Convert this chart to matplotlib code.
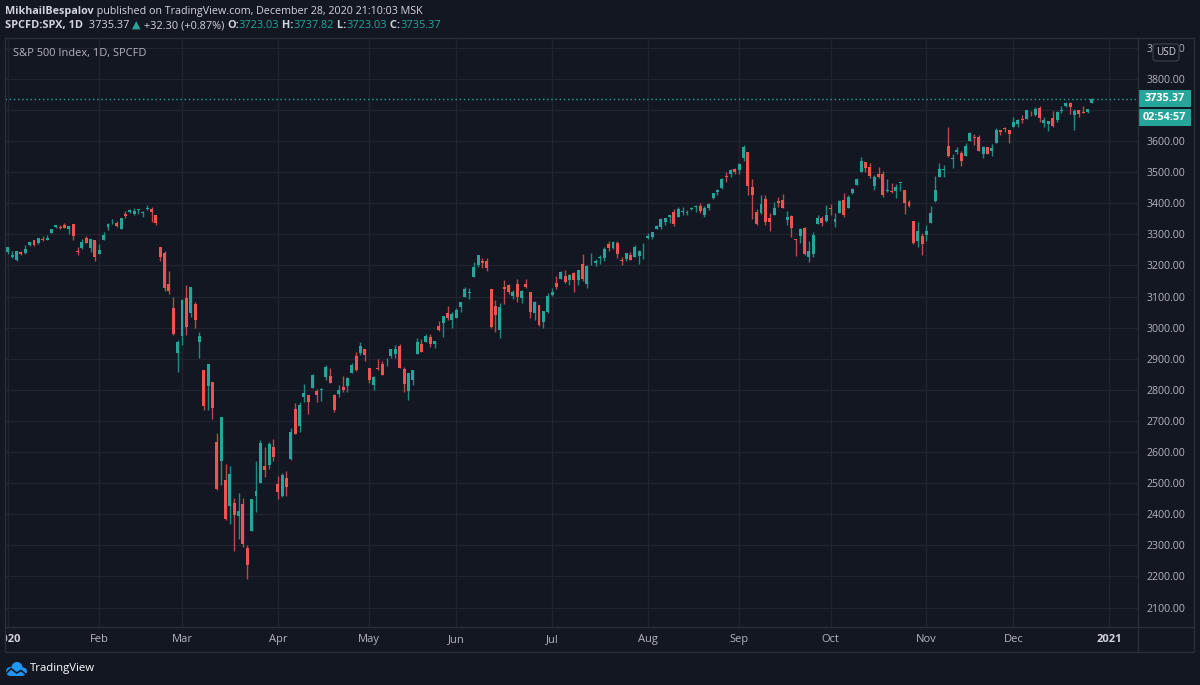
import matplotlib
matplotlib.use("Agg")
import matplotlib.pyplot as plt
import numpy as np
import pandas as pd
from matplotlib.patches import Rectangle, FancyBboxPatch, Circle
from matplotlib.transforms import Bbox, TransformedBbox

# ---------------- data (S&P 500, daily, 2020) ----------------
open_ = [
    # Jan
    3244.67, 3226.36, 3217.55, 3241.86, 3238.59, 3266.03, 3281.81, 3271.13, 3285.35, 3282.27, 3302.97,
    3323.66, 3321.03, 3330.02, 3315.77, 3333.10, 3247.16, 3255.35, 3289.46, 3256.45, 3282.33,
    # Feb
    3235.66, 3280.61, 3324.91, 3344.92, 3335.54, 3318.28, 3365.87, 3370.50, 3365.90, 3378.08, 3369.04,
    3380.39, 3380.45, 3360.50, 3257.61, 3238.94, 3139.90, 3062.54, 2916.90,
    # Mar
    2974.28, 3096.46, 3045.75, 3075.70, 2954.20, 2863.89, 2813.48, 2825.60, 2630.86, 2569.99, 2508.59,
    2425.66, 2436.50, 2393.48, 2431.94, 2290.71, 2344.44, 2457.77, 2501.29, 2555.87, 2558.98, 2614.69,
    # Apr
    2498.08, 2458.54, 2514.92, 2578.28, 2738.65, 2685.00, 2776.99, 2782.46, 2805.10, 2795.64, 2799.34,
    2842.43, 2845.62, 2784.81, 2787.89, 2810.42, 2812.64, 2854.65, 2909.96, 2918.46, 2930.91,
    # May
    2869.09, 2815.01, 2868.88, 2883.14, 2878.26, 2908.83, 2915.46, 2939.50, 2865.86, 2794.54, 2829.95,
    2913.86, 2948.59, 2953.63, 2969.95, 2948.05, 3004.08, 3015.65, 3046.61, 3025.17,
    # Jun
    3031.48, 3064.78, 3098.90, 3111.56, 3163.84, 3199.92, 3213.32, 3213.42, 3123.53, 3071.04, 2993.76,
    3131.00, 3136.13, 3101.64, 3140.29, 3094.42, 3138.70, 3114.40, 3046.60, 3073.20, 3018.59, 3050.20,
    # Jul
    3105.92, 3143.64, 3155.29, 3166.44, 3153.07, 3176.17, 3152.47, 3205.08, 3141.11, 3225.98, 3208.36,
    3224.21, 3224.29, 3268.52, 3254.86, 3271.64, 3218.58, 3219.84, 3234.27, 3227.22, 3231.76, 3270.45,
    # Aug
    3288.26, 3289.92, 3317.37, 3323.17, 3340.05, 3356.04, 3370.34, 3355.46, 3372.95, 3368.66, 3380.86,
    3387.04, 3392.51, 3360.48, 3386.01, 3418.09, 3435.95, 3449.97, 3485.14, 3494.69, 3509.73,
    # Sep
    3507.44, 3543.76, 3564.74, 3453.60, 3371.88, 3369.82, 3412.56, 3352.70, 3363.56, 3407.73, 3411.23,
    3346.86, 3357.38, 3285.57, 3295.75, 3320.11, 3226.14, 3236.66, 3333.90, 3350.92, 3341.21,
    # Oct
    3385.87, 3338.94, 3367.27, 3408.74, 3384.56, 3434.28, 3459.67, 3500.02, 3534.01, 3515.47, 3453.72,
    3493.50, 3493.66, 3439.38, 3439.91, 3438.50, 3464.90, 3441.42, 3403.15, 3342.48, 3277.17, 3293.59,
    # Nov
    3296.20, 3336.25, 3406.46, 3485.74, 3508.34, 3583.04, 3543.26, 3563.22, 3562.67, 3552.57, 3600.16,
    3610.31, 3612.09, 3559.41, 3579.31, 3566.82, 3594.52, 3635.50, 3638.55, 3634.18,
    # Dec
    3645.87, 3653.78, 3668.28, 3670.94, 3694.73, 3683.05, 3705.98, 3659.13, 3656.08, 3675.27, 3666.41,
    3696.25, 3713.65, 3722.39, 3684.28, 3698.08, 3693.42, 3694.03, 3723.03,
]
high = [
    3258.14, 3246.15, 3246.84, 3244.91, 3267.07, 3275.58, 3282.99, 3288.13, 3294.25, 3298.66, 3317.11,
    3329.88, 3329.79, 3337.77, 3326.88, 3333.18, 3258.85, 3285.78, 3293.47, 3285.91, 3282.33,
    3268.44, 3306.92, 3337.58, 3347.96, 3341.42, 3352.26, 3375.63, 3381.47, 3385.09, 3380.69, 3375.01,
    3393.52, 3389.15, 3360.76, 3259.81, 3246.99, 3182.51, 3097.07, 2959.72,
    3090.96, 3136.72, 3130.97, 3083.04, 2985.93, 2863.89, 2882.59, 2825.60, 2660.95, 2711.33, 2562.98,
    2553.93, 2453.57, 2466.97, 2453.01, 2300.73, 2449.71, 2571.42, 2637.01, 2615.91, 2631.80, 2641.39,
    2522.75, 2533.22, 2538.18, 2676.85, 2756.89, 2760.75, 2818.57, 2782.46, 2851.85, 2801.88, 2806.51,
    2879.22, 2868.98, 2785.54, 2815.10, 2844.90, 2842.71, 2887.72, 2921.15, 2954.86, 2930.91,
    2869.09, 2844.24, 2898.23, 2891.11, 2901.92, 2932.16, 2944.25, 2945.82, 2874.14, 2852.80, 2865.01,
    2968.09, 2964.21, 2980.29, 2978.50, 2956.76, 3021.72, 3036.25, 3068.67, 3049.17,
    3062.18, 3081.07, 3130.94, 3128.91, 3211.72, 3233.13, 3222.71, 3223.27, 3123.53, 3088.42, 3079.76,
    3153.45, 3141.16, 3120.00, 3155.53, 3120.92, 3154.90, 3115.01, 3086.25, 3073.73, 3053.89, 3111.51,
    3128.44, 3165.81, 3182.59, 3184.15, 3171.80, 3179.78, 3186.82, 3235.32, 3200.95, 3238.28, 3220.39,
    3233.52, 3258.61, 3277.29, 3279.32, 3279.99, 3227.26, 3241.43, 3243.72, 3264.74, 3250.92, 3272.17,
    3302.73, 3306.84, 3330.77, 3351.03, 3352.54, 3363.29, 3381.01, 3387.89, 3387.24, 3378.51, 3387.59,
    3395.06, 3399.54, 3390.80, 3399.96, 3432.09, 3444.21, 3481.07, 3501.38, 3509.23, 3514.77,
    3528.03, 3588.11, 3564.85, 3479.15, 3379.97, 3424.77, 3425.55, 3368.95, 3402.93, 3419.48, 3428.92,
    3375.17, 3362.27, 3285.57, 3320.31, 3323.35, 3278.70, 3306.88, 3360.74, 3357.92, 3393.56,
    3397.18, 3369.10, 3409.57, 3431.56, 3426.26, 3447.28, 3482.34, 3549.85, 3534.01, 3527.94, 3489.08,
    3515.76, 3502.42, 3476.93, 3464.86, 3460.53, 3466.46, 3441.42, 3409.51, 3342.48, 3341.05, 3304.93,
    3330.14, 3389.49, 3486.25, 3529.05, 3521.58, 3645.99, 3557.22, 3581.16, 3569.02, 3593.66, 3628.51,
    3623.11, 3619.09, 3585.22, 3581.23, 3589.81, 3642.31, 3635.50, 3644.31, 3634.18,
    3678.45, 3670.96, 3682.73, 3699.20, 3697.41, 3708.45, 3712.39, 3678.49, 3665.91, 3697.61, 3695.29,
    3711.27, 3725.12, 3726.70, 3702.90, 3698.26, 3711.24, 3703.82, 3737.82,
]
low = [
    3235.53, 3222.34, 3214.64, 3232.43, 3236.67, 3263.67, 3260.86, 3268.43, 3277.19, 3280.69, 3302.82,
    3318.86, 3316.61, 3320.04, 3301.87, 3281.53, 3234.50, 3253.22, 3271.89, 3242.80, 3214.68,
    3235.66, 3280.61, 3313.75, 3334.39, 3322.12, 3317.77, 3352.72, 3369.72, 3360.52, 3366.15, 3355.61,
    3378.83, 3341.02, 3328.45, 3214.65, 3118.77, 3108.99, 2977.39, 2855.84,
    2945.19, 2976.63, 3034.38, 2999.83, 2901.54, 2734.43, 2734.00, 2707.22, 2478.86, 2492.37, 2380.94,
    2367.04, 2280.52, 2319.78, 2295.56, 2191.86, 2344.44, 2407.53, 2500.72, 2520.02, 2545.28, 2571.15,
    2447.49, 2455.79, 2459.96, 2574.57, 2657.67, 2663.30, 2762.36, 2721.17, 2805.10, 2761.54, 2764.32,
    2830.88, 2820.43, 2727.10, 2775.95, 2794.26, 2791.76, 2852.89, 2860.71, 2912.16, 2892.47,
    2821.61, 2797.85, 2863.55, 2847.65, 2876.48, 2902.88, 2903.44, 2869.59, 2793.15, 2766.64, 2816.78,
    2913.86, 2922.35, 2953.63, 2938.57, 2933.59, 2988.17, 2969.75, 3023.40, 2998.61,
    3031.48, 3051.64, 3098.90, 3090.41, 3163.84, 3196.00, 3193.11, 3181.49, 2999.49, 2984.47, 2965.66,
    3076.06, 3108.03, 3093.51, 3083.11, 3079.39, 3127.12, 3032.13, 3024.01, 3004.63, 2999.74, 3047.83,
    3101.17, 3124.52, 3155.29, 3142.93, 3136.53, 3115.70, 3136.22, 3149.43, 3127.66, 3200.76, 3198.59,
    3205.65, 3215.16, 3247.77, 3253.10, 3222.66, 3200.05, 3214.25, 3216.17, 3227.22, 3204.13, 3220.26,
    3284.53, 3286.37, 3317.37, 3318.14, 3328.72, 3335.44, 3326.44, 3355.46, 3363.35, 3361.64, 3379.22,
    3370.15, 3369.66, 3354.69, 3379.31, 3413.13, 3425.84, 3444.15, 3468.35, 3484.32, 3493.25,
    3494.60, 3535.23, 3427.41, 3349.63, 3329.27, 3366.84, 3329.25, 3310.47, 3363.56, 3389.25, 3384.45,
    3328.82, 3292.40, 3229.10, 3270.95, 3232.57, 3209.45, 3228.44, 3332.91, 3327.54, 3340.47,
    3361.39, 3323.69, 3367.27, 3354.54, 3384.56, 3428.15, 3458.07, 3499.61, 3500.86, 3480.55, 3440.89,
    3480.45, 3419.93, 3435.65, 3433.06, 3415.34, 3440.45, 3364.86, 3388.71, 3268.89, 3259.82, 3233.94,
    3279.74, 3336.25, 3405.17, 3485.74, 3484.34, 3547.48, 3511.91, 3557.00, 3518.58, 3552.57, 3600.16,
    3588.68, 3567.33, 3543.84, 3556.85, 3552.77, 3594.52, 3617.76, 3629.33, 3594.39,
    3645.87, 3644.84, 3657.17, 3670.94, 3678.88, 3678.83, 3660.54, 3645.18, 3633.40, 3645.84, 3659.62,
    3688.57, 3710.87, 3685.84, 3636.48, 3676.16, 3689.28, 3689.32, 3723.03,
]
close = [
    3257.85, 3234.85, 3246.28, 3237.18, 3253.05, 3274.70, 3265.35, 3288.13, 3283.15, 3289.29, 3316.81,
    3329.62, 3320.79, 3321.75, 3325.54, 3295.47, 3243.63, 3276.24, 3273.40, 3283.66, 3225.52,
    3248.92, 3297.59, 3334.69, 3345.78, 3327.71, 3352.09, 3357.75, 3379.45, 3373.94, 3380.16, 3370.29,
    3386.15, 3373.23, 3337.75, 3225.89, 3128.21, 3116.39, 2978.76, 2954.22,
    3090.23, 3003.37, 3130.12, 3023.94, 2972.37, 2746.56, 2882.23, 2741.38, 2480.64, 2711.02, 2386.13,
    2529.19, 2398.10, 2409.39, 2304.92, 2237.40, 2447.33, 2475.56, 2630.07, 2541.47, 2626.65, 2584.59,
    2470.50, 2526.90, 2488.65, 2663.68, 2659.41, 2749.98, 2789.82, 2761.63, 2846.06, 2783.36, 2799.55,
    2874.56, 2823.16, 2736.56, 2799.31, 2797.80, 2836.74, 2878.48, 2863.39, 2939.51, 2912.43,
    2830.71, 2842.74, 2868.44, 2848.42, 2881.19, 2929.80, 2930.32, 2870.12, 2820.00, 2852.50, 2863.70,
    2953.91, 2922.94, 2971.61, 2948.51, 2955.45, 2991.77, 3036.13, 3029.73, 3044.31,
    3055.73, 3080.82, 3122.87, 3112.35, 3193.93, 3232.39, 3207.18, 3190.14, 3002.10, 3041.31, 3066.59,
    3124.74, 3113.49, 3115.34, 3097.74, 3117.86, 3131.29, 3050.33, 3083.76, 3009.05, 3053.24, 3100.29,
    3115.86, 3130.01, 3179.72, 3145.32, 3169.94, 3152.05, 3185.04, 3155.22, 3197.52, 3226.56, 3215.57,
    3224.73, 3251.84, 3257.30, 3276.02, 3235.66, 3215.63, 3239.41, 3218.44, 3258.44, 3246.22, 3271.12,
    3294.61, 3306.51, 3327.77, 3349.16, 3351.28, 3360.47, 3333.69, 3380.35, 3373.43, 3372.85, 3381.99,
    3389.78, 3374.85, 3385.51, 3397.16, 3431.28, 3443.62, 3478.73, 3484.55, 3508.01, 3500.31,
    3526.65, 3580.84, 3455.06, 3426.96, 3331.84, 3398.96, 3339.19, 3340.97, 3383.54, 3401.20, 3385.49,
    3357.01, 3319.47, 3281.06, 3315.57, 3236.92, 3246.59, 3298.46, 3351.60, 3335.47, 3363.00,
    3380.80, 3348.42, 3408.60, 3360.97, 3419.44, 3446.83, 3477.14, 3534.22, 3511.93, 3488.67, 3483.34,
    3483.81, 3426.92, 3443.12, 3435.56, 3453.49, 3465.39, 3400.97, 3390.68, 3271.03, 3310.11, 3269.96,
    3310.24, 3369.16, 3443.44, 3510.45, 3509.44, 3550.50, 3545.53, 3572.66, 3537.01, 3585.15, 3626.91,
    3609.53, 3567.79, 3581.87, 3557.54, 3577.59, 3635.41, 3629.65, 3638.35, 3621.63,
    3662.45, 3669.01, 3666.72, 3699.12, 3691.96, 3702.25, 3672.82, 3668.10, 3663.46, 3647.49, 3694.62,
    3701.17, 3722.48, 3709.41, 3694.92, 3687.26, 3690.01, 3703.06, 3735.37,
]

holidays = ["2020-01-01", "2020-01-20", "2020-02-17", "2020-04-10", "2020-05-25",
            "2020-07-03", "2020-09-07", "2020-11-26", "2020-12-25", "2021-01-01"]
month_names = ["2020", "Feb", "Mar", "Apr", "May", "Jun", "Jul", "Aug", "Sep",
               "Oct", "Nov", "Dec", "2021"]
price_ticks = [2100, 2200, 2300, 2400, 2500, 2600, 2700, 2800, 2900, 3000,
               3100, 3200, 3300, 3400, 3500, 3600, 3800, 3900]   # 3700 sits under the price tag
grid_levels = list(range(2100, 4000, 100))
last_price = 3735.37

# ---------------- styling ----------------
BG = "#131722"
GRID = "#20242f"
BORDER = "#2a2e39"
UP = "#26a69a"
DOWN = "#ef5350"
UP_WICK = "#1f8a80"
DOWN_WICK = "#c04748"
TXT = "#d1d4dc"
AXTXT = "#b2b5be"
FONT = ["Open Sans", "DejaVu Sans"]
plt.rcParams["font.family"] = FONT

W, H = 1200, 685
fig = plt.figure(figsize=(12, 6.85), dpi=100)
fig.patch.set_facecolor(BG)

# trading-day calendar
cal = pd.bdate_range("2020-01-01", "2021-01-04")
cal = cal[~cal.isin(pd.to_datetime(holidays))]
n = len(close)
xs = np.arange(n)
o = np.array(open_); h = np.array(high); l = np.array(low); c = np.array(close)

# main pane (pixel layout: x 5..1138, y 38..627)
ax = fig.add_axes([5 / W, 1 - 627 / H, (1138 - 5) / W, (627 - 38) / H])
ax.set_facecolor(BG)
ax.set_xlim(-0.66, 259.6)
ax.set_ylim(2037.3, 3931.2)
for s in ax.spines.values():
    s.set_visible(False)

# grid
month_first = pd.Series(np.arange(len(cal)), index=cal).groupby([cal.year, cal.month]).first().values
for yv in grid_levels:
    ax.axhline(yv, color=GRID, lw=1, zorder=0)
for xv in month_first:
    ax.axvline(xv, color=GRID, lw=1, zorder=0)

# candles
up = c >= o
ax.vlines(xs, l, h, colors=np.where(up, UP_WICK, DOWN_WICK), lw=1, zorder=2)
body_bottom = np.minimum(o, c)
body_h = np.maximum(np.abs(c - o), 2.5)
ax.bar(xs, body_h, bottom=body_bottom, width=0.68, color=np.where(up, UP, DOWN),
       linewidth=0, zorder=3)

# last price dotted line
ax.axhline(last_price, color=UP, lw=1, ls=(0, (1, 2)), zorder=1)

# y tick labels on the right
ax.set_yticks(price_ticks)
ax.set_yticklabels([f"{v:.2f}" for v in price_ticks])
ax.yaxis.tick_right()
ax.tick_params(axis="y", length=0, pad=6, labelsize=7.6, labelcolor=AXTXT)
ax.set_xticks([])

# month labels
clipbox = TransformedBbox(Bbox.from_extents(5 / W, 0, 1138 / W, 1), fig.transFigure)
for xv, name in zip(month_first, month_names):
    bold = name.isdigit()
    t = ax.text(xv, -0.022, name, transform=ax.get_xaxis_transform(), ha="center", va="center",
                fontsize=8.0, color=TXT if bold else AXTXT, fontweight="bold" if bold else "normal")
    t.set_clip_box(clipbox)
    t.set_clip_on(True)

# overlay in pixel coordinates
ov = fig.add_axes([0, 0, 1, 1], zorder=5)
ov.set_xlim(0, W)
ov.set_ylim(H, 0)
ov.axis("off")
ov.patch.set_alpha(0)

# borders
for (x0, y0, x1, y1) in [(5, 38, 1194, 38), (5, 38, 5, 652), (1138, 38, 1138, 652),
                         (1194, 38, 1194, 652), (5, 627, 1194, 627), (5, 652, 1194, 652)]:
    ov.plot([x0, x1], [y0, y1], color=BORDER, lw=1, solid_capstyle="butt")

# USD box
ov.add_patch(FancyBboxPatch((1153, 44), 26, 17, boxstyle="round,pad=0,rounding_size=3",
                            fc=BG, ec="#363a45", lw=1))
ov.text(1166, 52.5, "USD", ha="center", va="center", fontsize=7.2, color=TXT)

# last price label
ypix = H - ax.transData.transform((0, last_price))[1]
ov.add_patch(Rectangle((1138, ypix - 8.5), 53, 17, fc=UP, ec="none"))
ov.text(1164.5, ypix, f"{last_price:.2f}", ha="center", va="center", fontsize=7.8,
        color="white", fontweight="bold")
ov.add_patch(Rectangle((1138, ypix + 10), 53, 17, fc=UP, ec="none"))
ov.text(1164.5, ypix + 18.5, "02:54:57", ha="center", va="center", fontsize=7.8,
        color="white", fontweight="bold")

# pane title
ov.text(13, 53, "S&P 500 Index, 1D, SPCFD", ha="left", va="center", fontsize=7.9, color=AXTXT)

# header with mixed styles
r = fig.canvas.get_renderer()


def twidth(s, **kw):
    t1 = ov.text(0, 0, "|" + s + "|", **kw)
    w1 = t1.get_window_extent(r).width
    t1.remove()
    t0 = ov.text(0, 0, "||", **kw)
    w0 = t0.get_window_extent(r).width
    t0.remove()
    return w1 - w0


def pieces(x, y, items, size):
    for s, col, wt in items:
        kw = dict(fontsize=size, color=col, fontweight=wt, family=FONT)
        ov.text(x, y, s, ha="left", va="center", **kw)
        x += twidth(s, **kw)


pieces(5, 11, [("MikhailBespalov", TXT, "bold"),
               (" published on TradingView.com, December 28, 2020 21:10:03 MSK", TXT, "normal")], 7.75)
pieces(5, 25.5, [("SPCFD:SPX, 1D", TXT, "bold"), ("  3735.37 ", TXT, "normal"),
                 ("▲", UP, "normal"), (" +32.30 (+0.87%) ", TXT, "normal"),
                 ("O:", TXT, "bold"), ("3723.03", UP, "normal"),
                 (" H:", TXT, "bold"), ("3737.82", UP, "normal"),
                 (" L:", TXT, "bold"), ("3723.03", UP, "normal"),
                 (" C:", TXT, "bold"), ("3735.37", UP, "normal")], 7.95)

# TradingView logo
LOGO = "#2196f3"
ov.add_patch(Circle((10.5, 671.5), 4.5, fc=LOGO, ec="none"))
ov.add_patch(Circle((17, 667.5), 5.5, fc=LOGO, ec="none"))
ov.add_patch(Circle((23, 671.5), 4.0, fc=LOGO, ec="none"))
ov.add_patch(Rectangle((10.5, 670), 12.5, 6, fc=LOGO, ec="none"))
ov.plot([5, 11, 16.5, 21, 27.5], [674.5, 668.5, 673, 670.5, 675.5], color=BG, lw=1.2)
ov.text(30, 668.5, "TradingView", ha="left", va="center", fontsize=8.2, color="white")

fig.savefig("out.png", dpi=100, facecolor=BG)
